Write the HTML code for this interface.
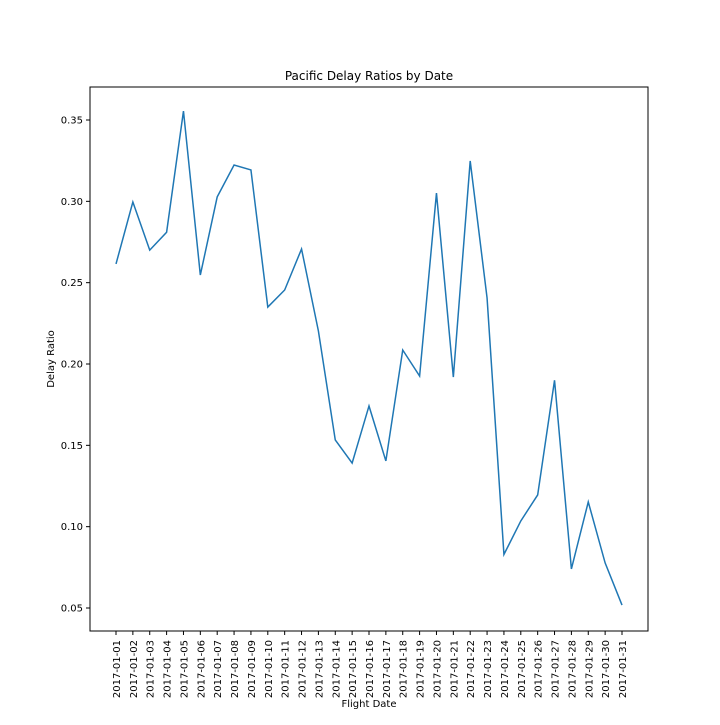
<!DOCTYPE html>
<html><head><meta charset="utf-8"><style>
body{margin:0;background:#fff}
svg text{font-family:"DejaVu Sans","Liberation Sans",sans-serif;fill:#000}
</style></head><body>
<svg id="chart" width="720" height="720" xmlns="http://www.w3.org/2000/svg">
<rect width="720" height="720" fill="#fff"/>
<text x="369" y="80" font-size="12" text-anchor="middle">Pacific Delay Ratios by Date</text>
<text x="369" y="707" font-size="10" text-anchor="middle">Flight Date</text>
<text transform="translate(54,359) rotate(-90)" font-size="10" text-anchor="middle">Delay Ratio</text>
<g id="ticks"></g>
<path id="line" fill="none" stroke="#1f77b4" stroke-width="1.5"/>
<rect x="90" y="87" width="558" height="544" fill="none" stroke="#000" stroke-width="1"/>
</svg>
<script>
const dates = Array.from({length:31},(_,i)=>'2017-01-'+String(i+1).padStart(2,'0'));
const ratios = [0.2615,0.2996,0.270,0.281,0.3555,0.2547,0.3027,0.3223,0.3193,0.235,0.2455,0.2707,0.2203,0.1533,0.1391,0.1742,0.1404,0.2086,0.1926,0.3051,0.192,0.3248,0.2406,0.0829,0.1035,0.1195,0.190,0.074,0.1152,0.0777,0.0518];
const yTicks = [0.05,0.10,0.15,0.20,0.25,0.30,0.35];
const NS='http://www.w3.org/2000/svg';
function xs(i){return 116+i*(622-116)/(dates.length-1);}
function ys(v){return 608-(v-0.05)*(608-120)/0.30;}
const g=document.getElementById('ticks');
yTicks.forEach(t=>{
  const y=ys(t);
  const l=document.createElementNS(NS,'line');
  l.setAttribute('x1',86);l.setAttribute('x2',90);l.setAttribute('y1',y);l.setAttribute('y2',y);l.setAttribute('stroke','#000');
  
  
  g.appendChild(l);
  const tx=document.createElementNS(NS,'text');
  tx.setAttribute('x',83);tx.setAttribute('y',y+3.5);tx.setAttribute('font-size','10');tx.setAttribute('text-anchor','end');
  tx.textContent=t.toFixed(2);
  
  
  g.appendChild(tx);
});
dates.forEach((d,i)=>{
  const x=xs(i);
  const l=document.createElementNS(NS,'line');
  l.setAttribute('x1',x);l.setAttribute('x2',x);l.setAttribute('y1',631);l.setAttribute('y2',635);l.setAttribute('stroke','#000');
  
  
  g.appendChild(l);
  const tx=document.createElementNS(NS,'text');
  tx.setAttribute('transform','translate('+(x+4)+',640) rotate(-90)');
  tx.setAttribute('font-size','10');tx.setAttribute('text-anchor','end');
  tx.textContent=d;
  
  
  g.appendChild(tx);
});
document.getElementById('line').setAttribute('d',ratios.map((v,i)=>(i?'L':'M')+xs(i)+','+ys(v)).join(' '));
</script>
</body></html>
